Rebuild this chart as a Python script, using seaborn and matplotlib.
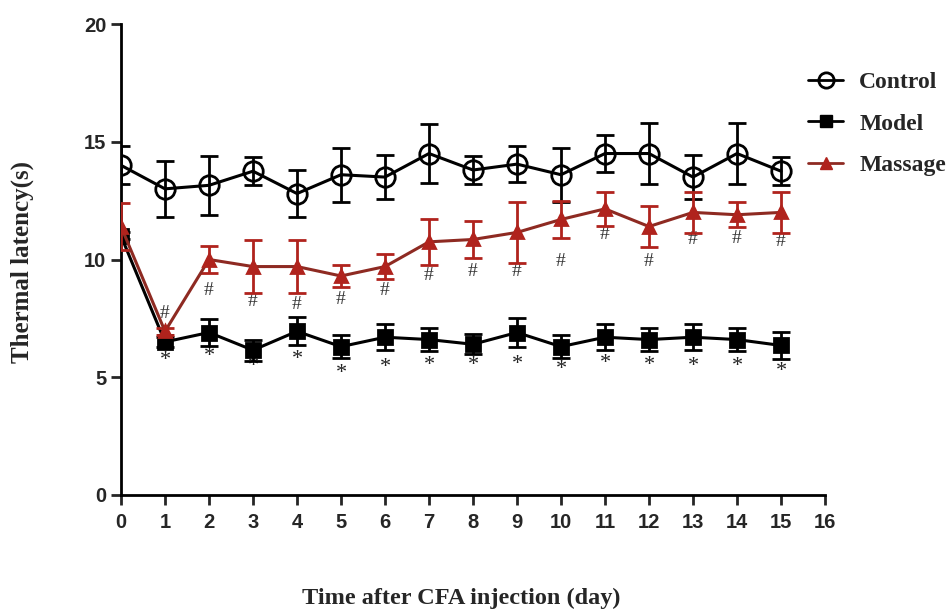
import matplotlib
matplotlib.use('Agg')
import matplotlib.pyplot as plt
import seaborn as sns
import numpy as np
from matplotlib.lines import Line2D

days = list(range(16))
control_mean = [14.0, 13.0, 13.15, 13.75, 12.8, 13.6, 13.5, 14.5, 13.8, 14.05, 13.6, 14.5, 14.5, 13.5, 14.5, 13.75]
control_sem = [0.8, 1.2, 1.25, 0.6, 1.0, 1.15, 0.95, 1.25, 0.6, 0.75, 1.15, 0.8, 1.3, 0.95, 1.3, 0.6]
model_mean = [11.0, 6.5, 6.9, 6.15, 6.95, 6.3, 6.7, 6.6, 6.4, 6.9, 6.3, 6.7, 6.6, 6.7, 6.6, 6.35]
model_sem = [0.15, 0.2, 0.57, 0.45, 0.6, 0.5, 0.56, 0.48, 0.42, 0.6, 0.5, 0.56, 0.48, 0.56, 0.5, 0.57]
massage_mean = [11.4, 6.95, 10.0, 9.7, 9.7, 9.3, 9.7, 10.75, 10.85, 11.15, 11.7, 12.15, 11.4, 12.0, 11.9, 12.0]
massage_sem = [1.0, 0.15, 0.58, 1.13, 1.13, 0.45, 0.53, 0.97, 0.78, 1.3, 0.8, 0.72, 0.87, 0.86, 0.53, 0.86]

mark_days = list(range(1, 16))
hash_y = [7.69, 8.7, 8.21, 8.07, 8.31, 8.7, 9.34, 9.48, 9.48, 9.91, 11.08, 9.91, 10.83, 10.91, 10.76]
star_y = [5.73, 5.9, 5.45, 5.76, 5.14, 5.42, 5.48, 5.52, 5.55, 5.31, 5.59, 5.48, 5.45, 5.45, 5.24]

x_ticks = list(range(17))
y_ticks = [0, 5, 10, 15, 20]

sns.set_style('ticks')
plt.rcParams['font.family'] = ['Liberation Sans', 'DejaVu Sans']

fig = plt.figure(figsize=(9.51, 6.1), dpi=100)
ax = fig.add_axes([121/951, 1-495/610, (825-121)/951, (495-24)/610])

red_line = '#8e2a22'
red_mark = '#b0231d'

series = [
    ('Control', control_mean, control_sem, 'black', 'black', 'o', 14, 'none'),
    ('Model', model_mean, model_sem, 'black', 'black', 's', 10, 'black'),
    ('Massage', massage_mean, massage_sem, red_line, red_mark, '^', 9, red_mark),
]

z = 3
for name, m, e, lc, mc, mk, ms, mfc in series:
    ax.errorbar(days, m, yerr=e, fmt='none', ecolor=mc if name == 'Massage' else lc,
                elinewidth=2.0, capsize=6.5, capthick=2.0, zorder=z)
    sns.lineplot(x=days, y=m, ax=ax, color=lc, linewidth=2.2, marker=mk,
                 markersize=ms, markerfacecolor=mfc, markeredgecolor=mc,
                 markeredgewidth=2.0, zorder=z + 0.5)
    z += 1

for d, yv in zip(mark_days, hash_y):
    ax.text(d, yv, '#', ha='center', va='center', fontsize=14,
            family=['Liberation Serif'], color='#333333')
for d, yv in zip(mark_days, star_y):
    ax.text(d, yv, '*', ha='center', va='center', fontsize=16,
            family=['Liberation Serif'], color='#222222')

ax.set_xlim(0, 16)
ax.set_ylim(0, 20)
ax.set_xticks(x_ticks)
ax.set_yticks(y_ticks)
ax.tick_params(axis='both', labelsize=14.5, width=2, length=7, direction='out')
ax.tick_params(axis='x', pad=6)
for lab in ax.get_xticklabels() + ax.get_yticklabels():
    lab.set_fontweight('bold')
for s in ['top', 'right']:
    ax.spines[s].set_visible(False)
for s in ['left', 'bottom']:
    ax.spines[s].set_linewidth(2)
    ax.spines[s].set_color('black')

ax.set_xlabel('Time after CFA injection (day)', fontsize=17.5, fontweight='bold',
              family=['Liberation Serif'])
ax.xaxis.set_label_coords((461-121)/(825-121), -(598-495)/(495-24))
ax.xaxis.label.set_va('center')
ax.set_ylabel('Thermal latency(s)', fontsize=18, fontweight='bold',
              family=['Liberation Serif'])
ax.yaxis.set_label_coords(-(121-22)/(825-121), (495-262)/(495-24))
ax.yaxis.label.set_va('center')

handles = [
    Line2D([], [], color='black', lw=2, marker='o', markersize=11, markerfacecolor='none', markeredgewidth=2),
    Line2D([], [], color='black', lw=2, marker='s', markersize=9, markerfacecolor='black'),
    Line2D([], [], color=red_line, lw=2, marker='^', markersize=9, markerfacecolor=red_mark, markeredgecolor=red_mark),
]
leg = fig.legend(handles, ['Control', 'Model', 'Massage'], loc='upper left',
                 bbox_to_anchor=(799/951, 1-62/610), frameon=False,
                 prop={'family': 'Liberation Serif', 'weight': 'bold', 'size': 17},
                 handlelength=1.45, handletextpad=0.7, labelspacing=0.85, borderaxespad=0)

fig.savefig('out.png', dpi=100)
